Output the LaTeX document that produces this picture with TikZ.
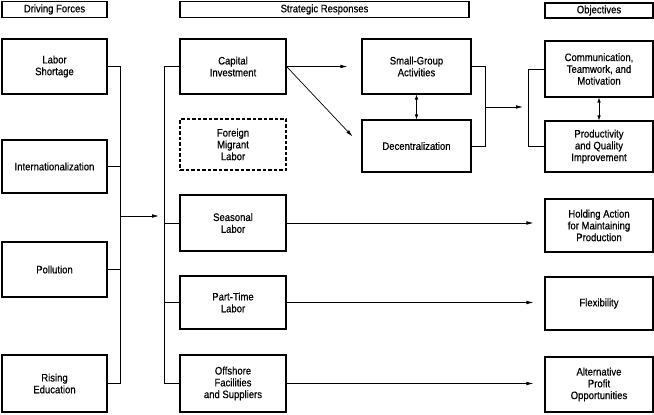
\documentclass[tikz,border=0pt]{standalone}
\usepackage{fontspec}
\setmainfont{Liberation Sans}[FakeStretch=0.88, FakeBold=0.6]
\usepackage{xcolor}
\usetikzlibrary{positioning,arrows.meta,calc}

\begin{document}
\begin{tikzpicture}[x=1pt, y=-1pt,
    box/.style={draw, line width=1.1pt, align=center, inner sep=0pt,
        font=\fontsize{10.8}{11.8}\selectfont},
    hdr/.style={box, minimum height=16pt},
    dbox/.style={box, dashed, dash pattern=on 3.5pt off 2pt},
    link/.style={line width=0.7pt},
    arr/.style={link, -{Latex[length=7pt, width=3.6pt]}},
    darr/.style={link, {Latex[length=5pt, width=3.6pt]}-{Latex[length=5pt, width=3.6pt]}}]
    % Rahmen
    \useasboundingbox (0,0) rectangle (654,415);
    \def\wL{105}
    \def\wM{106}
    \def\wS{109}
    \def\wO{108}
    % Kopfzeilen
    \node[hdr, minimum width=\wL] (hF) at (54.5,9.5) {Driving Forces};
    \node[hdr, minimum width=289] (hS) at (324.5,9.5) {Strategic Responses};
    \node[hdr, minimum width=\wO, minimum height=15pt] (hO) at (599,10.5) {Objectives};
    % Driving forces
    \node[box, minimum width=\wL, minimum height=55] (labor) at (54.5,66.5) {Labor\\Shortage};
    \node[box, minimum width=\wL, minimum height=53] (intl) at (54.5,166.5) {Internationalization};
    \node[box, minimum width=\wL, minimum height=55] (poll) at (54.5,269.5) {Pollution};
    \node[box, minimum width=\wL, minimum height=57] (edu) at (54.5,383.5) {Rising\\Education};
    % Strategic responses
    \node[box, minimum width=\wM, minimum height=55] (cap) at (233,66.5) {Capital\\Investment};
    \node[dbox, minimum width=\wM, minimum height=51] (mig) at (233,144.5) {Foreign\\Migrant\\Labor};
    \node[box, minimum width=\wM, minimum height=56] (seas) at (233,223) {Seasonal\\Labor};
    \node[box, minimum width=\wM, minimum height=53] (part) at (233,302.5) {Part-Time\\Labor};
    \node[box, minimum width=\wM, minimum height=57] (off) at (233,383.5) {Offshore\\Facilities\\and Suppliers};
    \node[box, minimum width=\wS, minimum height=55] (sg) at (416.5,66.5) {Small-Group\\Activities};
    \node[box, minimum width=\wS, minimum height=52] (dec) at (416.5,146) {Decentralization};
    % Objectives
    \node[box, minimum width=\wO, minimum height=56] (comm) at (599,69) {Communication,\\Teamwork, and\\Motivation};
    \node[box, minimum width=\wO, minimum height=51] (prod) at (599,146.5) {Productivity\\and Quality\\Improvement};
    \node[box, minimum width=\wO, minimum height=53] (hold) at (599,225.5) {Holding Action\\for Maintaining\\Production};
    \node[box, minimum width=\wO, minimum height=53] (flex) at (599,303.5) {Flexibility};
    \node[box, minimum width=\wO, minimum height=55] (alt) at (599,384.5) {Alternative\\Profit\\Opportunities};
    % Sammelschienen
    \coordinate (busL) at (120,216);
    \coordinate (busM) at (164,216);
    \coordinate (busR) at (485,107);
    \coordinate (busO) at (528,107);
    % linke Klammer
    \draw[link] (labor.east) -| (busL);
    \draw[link] (edu.east) -| (busL);
    \draw[link] (intl.east) -- (intl.east -| busL);
    \draw[link] (poll.east) -- (poll.east -| busL);
    \draw[arr, shorten >=5pt] (busL) -- (busM);
    % mittlere Klammer
    \draw[link] (cap.west) -| (busM);
    \draw[link] (off.west) -| (busM);
    \draw[link] (seas.west) -- (seas.west -| busM);
    \draw[link] (part.west) -- (part.west -| busM);
    % Kapitalinvestition
    \draw[arr, shorten >=14pt] (cap.east) -- (cap.east -| sg.west);
    \draw[arr, shorten >=13pt] (cap.east) -- (dec.west);
    \draw[darr] (sg.south) -- (dec.north);
    \draw[link] (sg.east) -| (busR);
    \draw[link] (dec.east) -| (busR);
    \draw[arr, shorten >=5pt] (busR) -- (busO);
    \draw[link] (comm.west) -| (busO);
    \draw[link] (prod.west) -| (busO);
    \draw[darr] (comm.south) -- (prod.north);
    % lange Pfeile
    \draw[arr, shorten >=11pt] (seas.east) -- (seas.east -| hold.west);
    \draw[arr, shorten >=11pt] (part.east) -- (part.east -| flex.west);
    \draw[arr, shorten >=11pt] (off.east) -- (off.east -| alt.west);
\end{tikzpicture}
\end{document}
